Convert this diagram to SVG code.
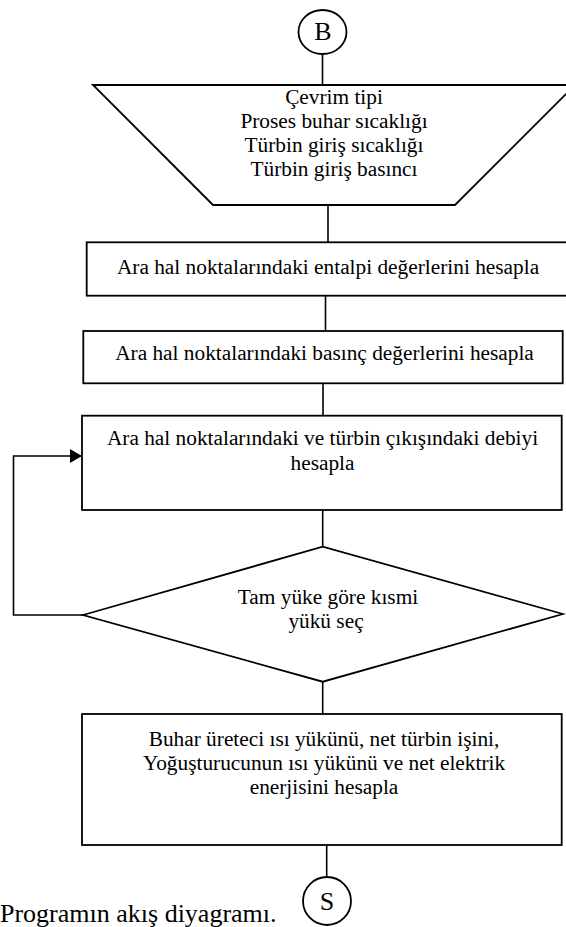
<svg xmlns="http://www.w3.org/2000/svg" width="566" height="927" viewBox="0 0 566 927">
<style>
.s{fill:#fff;stroke:#000;stroke-width:1.8}
.c{fill:none;stroke:#000;stroke-width:1.6}
</style>
<defs>
<marker id="ah" markerWidth="12" markerHeight="14" refX="12" refY="7" orient="auto" markerUnits="userSpaceOnUse">
<path d="M0,0 L12,7 L0,14 Z" fill="#000"/>
</marker>
</defs>
<rect width="566" height="927" fill="#fff"/>
<g id="connectors">
<line class="c" x1="322.5" y1="54" x2="322.5" y2="85"/>
<line class="c" x1="328" y1="205" x2="328" y2="242"/>
<line class="c" x1="325.5" y1="296" x2="325.5" y2="331"/>
<line class="c" x1="323" y1="383" x2="323" y2="416"/>
<line class="c" x1="322.7" y1="510" x2="322.7" y2="547"/>
<line class="c" x1="322.7" y1="682" x2="322.7" y2="714"/>
<line class="c" x1="326.7" y1="845" x2="326.7" y2="877"/>
<polyline class="c" points="83,615 13.5,615 13.5,456 82,456" marker-end="url(#ah)"/>
</g>
<g id="start" font-family="Liberation Serif, serif" font-size="26" text-anchor="middle">
<ellipse class="s" cx="322.5" cy="32" rx="24" ry="22"/>
<text x="323" y="40">B</text>
</g>
<g id="input" font-family="Liberation Serif, serif" font-size="21.33" text-anchor="middle">
<polygon class="s" points="93,85 575,85 455,205 213,205"/>
<text x="334" y="104">Çevrim tipi</text>
<text x="334" y="128">Proses buhar sıcaklığı</text>
<text x="334" y="152">Türbin giriş sıcaklığı</text>
<text x="334" y="176">Türbin giriş basıncı</text>
</g>
<g id="box1" font-family="Liberation Serif, serif" font-size="21.33" text-anchor="middle">
<rect class="s" x="86.7" y="242.3" width="490" height="53.4"/>
<text x="328" y="273.5">Ara hal noktalarındaki entalpi değerlerini hesapla</text>
</g>
<g id="box2" font-family="Liberation Serif, serif" font-size="21.33" text-anchor="middle">
<rect class="s" x="83.3" y="331" width="479.4" height="52.3"/>
<text x="324.5" y="360">Ara hal noktalarındaki basınç değerlerini hesapla</text>
</g>
<g id="box3" font-family="Liberation Serif, serif" font-size="21.33" text-anchor="middle">
<rect class="s" x="82" y="415.7" width="479.7" height="94.3"/>
<text x="322.5" y="445">Ara hal noktalarındaki ve türbin çıkışındaki debiyi</text>
<text x="322.5" y="470">hesapla</text>
</g>
<g id="decision" font-family="Liberation Serif, serif" font-size="21.33" text-anchor="middle">
<polygon class="s" points="83,615 322.7,546.7 563,614 322.7,681.7"/>
<text x="328" y="603.5">Tam yüke göre kısmi</text>
<text x="326" y="627.5">yükü seç</text>
</g>
<g id="box4" font-family="Liberation Serif, serif" font-size="21.33" text-anchor="middle">
<rect class="s" x="82" y="714" width="479.7" height="131"/>
<text x="324" y="745.5">Buhar üreteci ısı yükünü, net türbin işini,</text>
<text x="324" y="769.5">Yoğuşturucunun ısı yükünü ve net elektrik</text>
<text x="324" y="793.5">enerjisini hesapla</text>
</g>
<g id="end" font-family="Liberation Serif, serif" font-size="26" text-anchor="middle">
<circle class="s" cx="327" cy="901" r="24"/>
<text x="327" y="910">S</text>
</g>
<text x="0" y="922" font-family="Liberation Serif, serif" font-size="26">Programın akış diyagramı.</text>
</svg>
